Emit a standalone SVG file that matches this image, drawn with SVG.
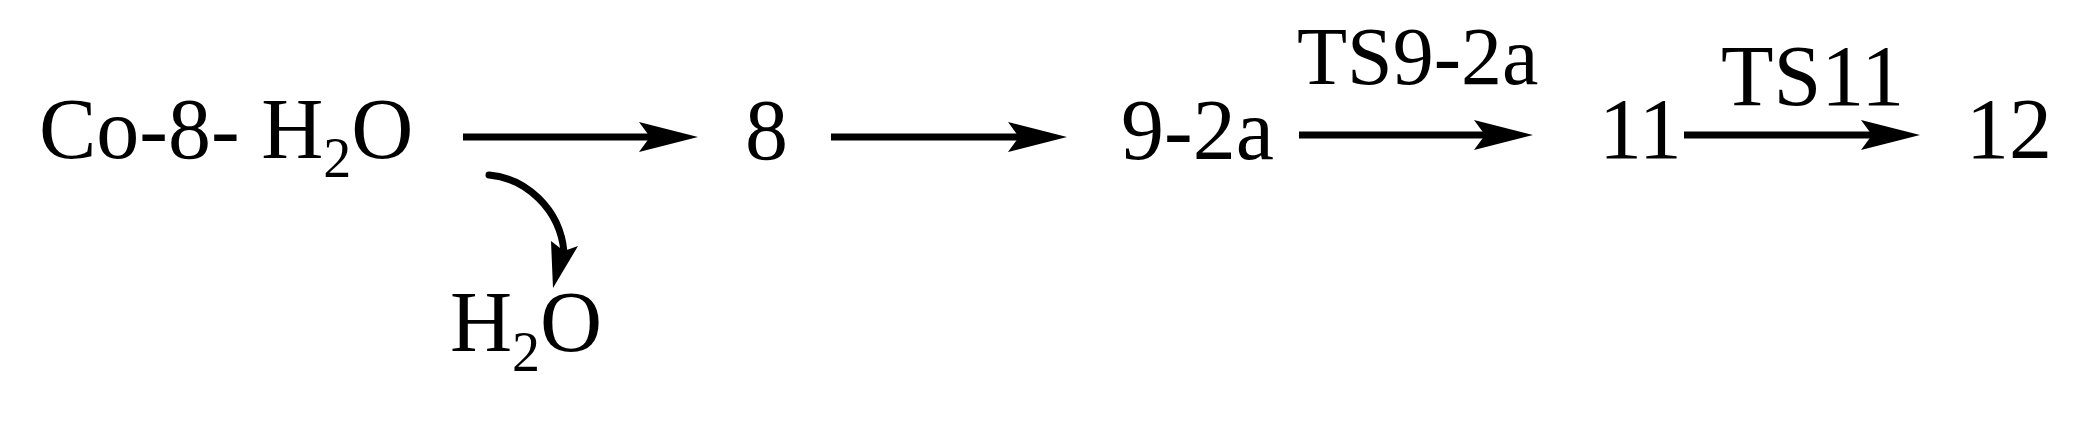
<svg xmlns="http://www.w3.org/2000/svg" width="2098" height="425" viewBox="0 0 2098 425">
<style>
text{font-family:"Liberation Serif","Times New Roman",serif;font-size:86px;fill:#000}
.sub{font-size:56px}
.ts{font-size:82px}
.line{stroke:#000;stroke-width:7;fill:none}
.curve{stroke:#000;stroke-width:7;fill:none;stroke-linecap:round}
.head{fill:#000}
</style>
<defs>
<path id="ah" d="M0,0 L-59,-15 L-48,0 L-59,15 Z"/>
</defs>
<g id="n-co8h2o"><text x="39" y="158">Co-8- H<tspan class="sub" dy="19">2</tspan><tspan dy="-19">O</tspan></text></g>
<g id="n-h2o"><text x="450" y="351">H<tspan class="sub" dy="20">2</tspan><tspan dy="-20">O</tspan></text></g>
<g id="n-8"><text x="745" y="159">8</text></g>
<g id="n-9-2a"><text x="1121" y="159">9-2a</text></g>
<g id="n-11"><text x="1599" y="158">11</text></g>
<g id="n-12"><text x="1966" y="158">12</text></g>
<g id="connectors">
<line class="line" x1="463" y1="137" x2="650" y2="137"/>
<use href="#ah" class="head" transform="translate(698,137)"/>
<line class="line" x1="831" y1="137" x2="1020" y2="137"/>
<use href="#ah" class="head" transform="translate(1067,137)"/>
<line class="line" x1="1299" y1="135" x2="1486" y2="135"/>
<use href="#ah" class="head" transform="translate(1533,135)"/>
<line class="line" x1="1684" y1="135" x2="1873" y2="135"/>
<use href="#ah" class="head" transform="translate(1920,135)"/>
<path class="curve" d="M489,175 C525,178 560,208 564,252"/>
<path class="head" d="M553,288 L551,241 L564,251 L578,246 Z"/>
<text class="ts" x="1297" y="84">TS9-2a</text>
<text x="1721" y="105">TS11</text>
</g>
</svg>
